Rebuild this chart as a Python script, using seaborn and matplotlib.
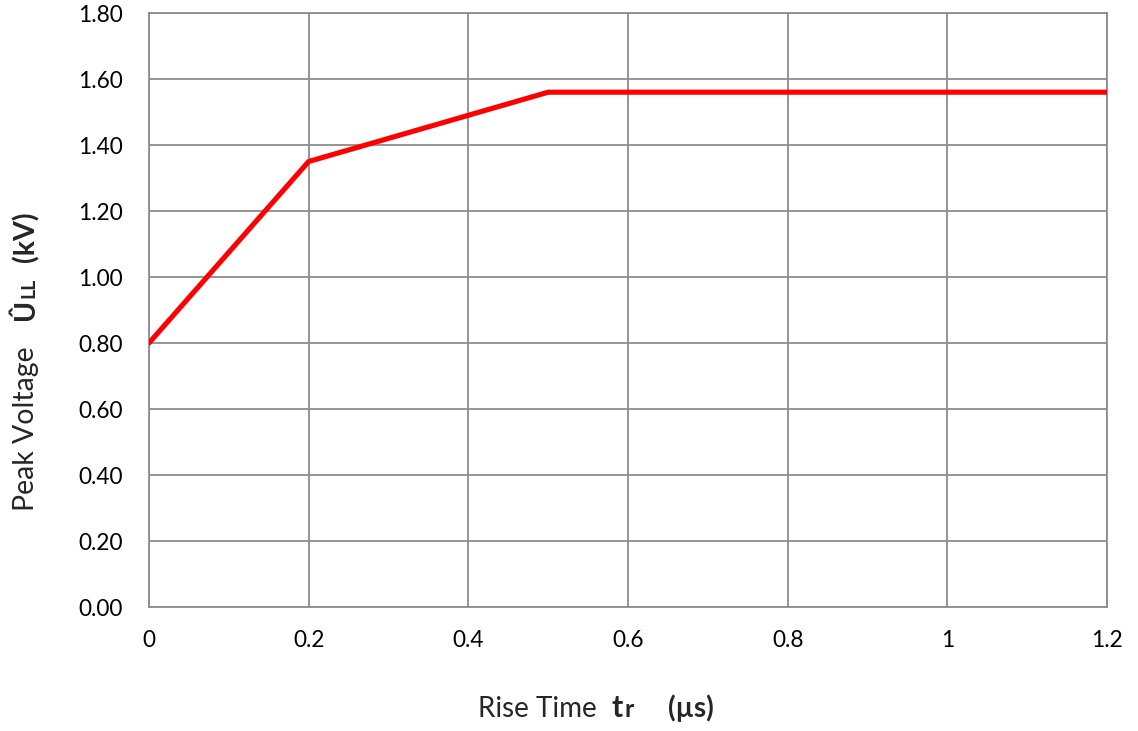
import numpy as np
import pandas as pd
import matplotlib.pyplot as plt
import seaborn as sns

sns.set_style('white')
plt.rcParams['font.family'] = ['Lato', 'DejaVu Sans']

# data
rise_time = [0, 0.2, 0.5, 1.2]
peak_voltage = [0.80, 1.35, 1.56, 1.56]
x_ticks = [0, 0.2, 0.4, 0.6, 0.8, 1, 1.2]
x_tick_labels = ['0', '0.2', '0.4', '0.6', '0.8', '1', '1.2']
y_ticks = [0.0, 0.2, 0.4, 0.6, 0.8, 1.0, 1.2, 1.4, 1.6, 1.8]

df = pd.DataFrame({'tr': rise_time, 'U': peak_voltage})

W, H = 1138, 731
fig = plt.figure(figsize=(W / 100, H / 100), dpi=100)
ax = fig.add_axes([149 / W, (H - 607) / H, 958 / W, 594 / H])

sns.lineplot(data=df, x='tr', y='U', ax=ax, color='#ff0000', linewidth=3.7, zorder=3)

grid_col = '#8c8c8c'
ax.set_xlim(0, 1.2)
ax.set_ylim(0, 1.8)
ax.set_xticks(x_ticks)
ax.set_xticklabels(x_tick_labels)
ax.set_yticks(y_ticks)
ax.set_yticklabels([f'{v:.2f}' for v in y_ticks])
ax.grid(True, color=grid_col, linewidth=1.3)
for s in ax.spines.values():
    s.set_color(grid_col)
    s.set_linewidth(1.3)
ax.tick_params(axis='both', direction='out', length=5.8, width=1.3, color=grid_col,
               labelsize=16.3, labelcolor='black')
ax.tick_params(axis='x', pad=11)
ax.tick_params(axis='y', pad=13)
ax.set_xlabel('')
ax.set_ylabel('')


def fx(px):
    return px / W


def fy(py):
    return 1 - py / H


renderer = fig.canvas.get_renderer()
inv = fig.transFigure.inverted()

# x label pieces (baseline aligned)
base = dict(ha='left', va='baseline')
fig.text(fx(478), fy(717), 'Rise Time', fontsize=20, **base)
t = fig.text(fx(612), fy(717), 't', fontsize=22, fontweight='bold', **base)
ext = t.get_window_extent(renderer)
fig.text(inv.transform((ext.x1 + 1, 0))[0], fy(717), 'r', fontsize=18, fontweight='bold', **base)
fig.text(fx(668), fy(717), '(µs)', fontsize=20, fontweight='bold', **base)

# y label pieces (rotated, baseline aligned)
rot = dict(rotation=90, rotation_mode='anchor', ha='left', va='baseline')
fig.text(fx(34), fy(511), 'Peak Voltage', fontsize=20.5, **rot)
u = fig.text(fx(34), fy(320), 'Û', fontsize=20.5, fontweight='bold', **rot)
ext = u.get_window_extent(renderer)
fig.text(fx(34), inv.transform((0, ext.y1 + 1))[1], 'LL', fontsize=14, fontweight='bold', **rot)
fig.text(fx(34), fy(262), '(kV)', fontsize=20.5, fontweight='bold', **rot)

fig.savefig('out.png', dpi=100, facecolor='white')
